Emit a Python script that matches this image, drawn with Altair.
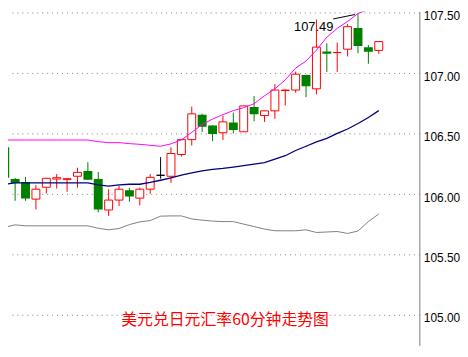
import altair as alt
import pandas as pd

# ---- data (USD/JPY 60-minute candles) ----
opens = [106.388, 106.125, 106.101, 105.959, 106.057, 106.125, 106.120, 106.148, 106.191, 106.125,
         105.869, 105.951, 106.033, 105.967, 106.041, 106.156, 106.148, 106.328, 106.451, 106.656,
         106.568, 106.508, 106.593, 106.516, 106.721, 106.650, 106.689, 106.857, 106.861, 106.986,
         106.871, 107.180, 107.171, 107.199, 107.374, 107.216, 107.189]
highs = [106.400, 106.134, 106.142, 106.076, 106.135, 106.166, 106.134, 106.218, 106.265, 106.183,
         106.041, 106.070, 106.052, 106.054, 106.166, 106.306, 106.388, 106.455, 106.724, 106.666,
         106.570, 106.648, 106.675, 106.732, 106.811, 106.691, 106.910, 106.866, 107.013, 106.988,
         107.445, 107.248, 107.254, 107.407, 107.490, 107.234, 107.264]
lows = [106.130, 105.945, 105.945, 105.874, 106.005, 106.046, 106.019, 106.054, 106.118, 105.849,
        105.820, 105.902, 105.937, 105.907, 106.002, 106.128, 106.093, 106.310, 106.402, 106.513,
        106.439, 106.448, 106.502, 106.514, 106.603, 106.598, 106.623, 106.734, 106.839, 106.802,
        106.825, 107.011, 107.011, 107.139, 107.166, 107.079, 107.161]
closes = [106.136, 106.093, 105.964, 106.041, 106.131, 106.136, 106.128, 106.180, 106.120, 105.874,
          105.951, 106.041, 105.980, 106.041, 106.139, 106.156, 106.336, 106.451, 106.664, 106.557,
          106.497, 106.598, 106.530, 106.730, 106.661, 106.689, 106.861, 106.861, 106.992, 106.892,
          107.216, 107.161, 107.172, 107.385, 107.226, 107.177, 107.262]

upper = [106.448, 106.448, 106.448, 106.448, 106.448, 106.448, 106.448, 106.448, 106.448, 106.434,
         106.426, 106.426, 106.418, 106.412, 106.404, 106.396, 106.416, 106.449, 106.511, 106.576,
         106.621, 106.658, 106.691, 106.716, 106.748, 106.814, 106.871, 106.945, 107.043, 107.101,
         107.191, 107.298, 107.371, 107.429, 107.494, 107.527, 107.560]
middle = [106.082, 106.093, 106.093, 106.093, 106.093, 106.093, 106.093, 106.093, 106.093, 106.076,
          106.066, 106.076, 106.082, 106.082, 106.097, 106.115, 106.134, 106.158, 106.175, 106.193,
          106.205, 106.213, 106.224, 106.236, 106.248, 106.261, 106.289, 106.318, 106.361, 106.396,
          106.433, 106.461, 106.502, 106.539, 106.584, 106.634, 106.691]
lower = [105.726, 105.746, 105.738, 105.738, 105.738, 105.738, 105.738, 105.738, 105.738, 105.718,
         105.705, 105.716, 105.748, 105.771, 105.781, 105.818, 105.820, 105.820, 105.795, 105.785,
         105.777, 105.773, 105.773, 105.752, 105.732, 105.711, 105.697, 105.697, 105.697, 105.705,
         105.683, 105.687, 105.691, 105.675, 105.695, 105.773, 105.836]

y_ticks = [105.0, 105.5, 106.0, 106.5, 107.0, 107.5]
peak_label = "107.49"
caption = "美元兑日元汇率60分钟走势图"

# ---- tables ----
n = len(opens)
direction = ["up" if c > o else ("down" if c < o else "flat") for o, c in zip(opens, closes)]
df = pd.DataFrame({"i": list(range(n)), "open": opens, "high": highs, "low": lows,
                   "close": closes, "upper": upper, "middle": middle, "lower": lower,
                   "dir": direction})
peak_i = highs.index(max(highs))
peak_df = pd.DataFrame({"i": [peak_i], "high": [highs[peak_i]], "label": [peak_label]})
cap_df = pd.DataFrame({"t": [caption]})

xs = alt.Scale(domain=[0.79, 39.43], nice=False, zero=False)
ys = alt.Scale(domain=[104.748, 107.511], nice=False, zero=False)
color_scale = alt.Scale(domain=["up", "down", "flat"], range=["#ff0000", "#008000", "#000000"])

X = alt.X("i:Q", scale=xs, axis=None)

base = alt.Chart(df)

wicks = base.mark_rule(strokeWidth=1, clip=True).encode(
    x=X,
    y=alt.Y("low:Q", scale=ys,
            axis=alt.Axis(orient="right", values=y_ticks, format=".2f", title=None,
                          grid=True, gridDash=[1, 4], gridColor="#808080", gridWidth=1,
                          domain=True, domainColor="#808080", domainWidth=1,
                          ticks=False, labelFont="Liberation Sans", labelFontSize=12,
                          labelColor="#000000", labelPadding=4, labelOffset=3)),
    y2="high:Q",
    color=alt.Color("dir:N", scale=color_scale, legend=None),
)

hollow = base.transform_filter(alt.datum.dir != "down").mark_bar(
    size=8, fill="#ffffff", strokeWidth=1, clip=True
).encode(
    x=X,
    y=alt.Y("open:Q", scale=ys),
    y2="close:Q",
    stroke=alt.Stroke("dir:N", scale=color_scale, legend=None),
)

filled = base.transform_filter(alt.datum.dir == "down").mark_bar(
    size=9, color="#008000", clip=True
).encode(
    x=X,
    y=alt.Y("open:Q", scale=ys),
    y2="close:Q",
)

up_line = base.mark_line(color="#ff00ff", strokeWidth=1, clip=True).encode(
    x=X, y=alt.Y("upper:Q", scale=ys))
mid_line = base.mark_line(color="#000080", strokeWidth=1.3, clip=True).encode(
    x=X, y=alt.Y("middle:Q", scale=ys))
low_line = base.mark_line(color="#808080", strokeWidth=1, clip=True).encode(
    x=X, y=alt.Y("lower:Q", scale=ys))

peak_rule = alt.Chart(peak_df).mark_rule(
    color="#000000", strokeWidth=1, xOffset=-25, yOffset=5, x2Offset=-3, y2Offset=0.5
).encode(x=X, y=alt.Y("high:Q", scale=ys), x2="i:Q", y2="high:Q")

peak_text = alt.Chart(peak_df).mark_text(
    font="Liberation Sans", fontSize=13, color="#000000", dx=-44.7, dy=13,
    align="center", baseline="middle"
).encode(x=X, y=alt.Y("high:Q", scale=ys), text="label:N")

cap_text = alt.Chart(cap_df).mark_text(
    font="Noto Sans CJK SC", fontSize=16, color="#ff0000", align="center", baseline="middle"
).encode(x=alt.value(219), y=alt.value(311), text="t:N")

chart = alt.layer(
    wicks, hollow, filled, up_line, mid_line, low_line, peak_rule, peak_text, cap_text
).properties(
    width=415, height=337, padding=0, background="#ffffff"
).configure_view(stroke=None)

chart.save("out.html", embed_options={"renderer": "svg", "actions": False})
